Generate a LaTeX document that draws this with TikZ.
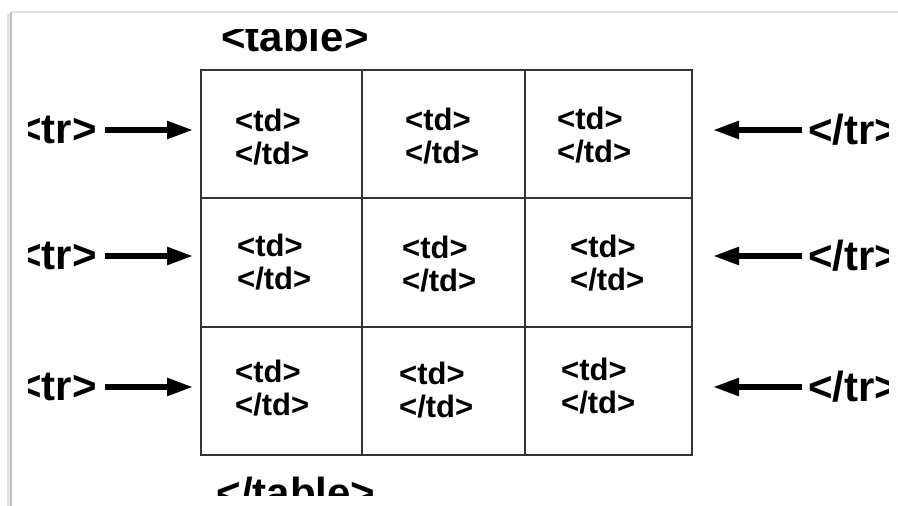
\documentclass[tikz,border=0pt]{standalone}
\usepackage{fontspec}
\setmainfont{Liberation Sans}
\usetikzlibrary{arrows.meta}
\begin{document}
\begin{tikzpicture}[x=1pt,y=-1pt,
	tag/.style={font=\fontsize{42}{44}\selectfont\bfseries},
	cell/.style={font=\fontsize{31}{33}\selectfont\bfseries, align=left, anchor=west, inner sep=0pt},
	rowarrow/.style={line width=5.5pt, -{Triangle[length=26pt,width=17pt]}}]
\useasboundingbox (0,0) rectangle (898,506);
% frame of the slide
\draw[line width=3pt, black!10] (8,14) -- (8,506);
\draw[line width=1.6pt, black!25] (11,12) -- (11,506);
\draw[line width=1.2pt, black!12] (11,12) -- (898,12);
	\begin{scope}
	\clip (28,29) rectangle (888,495);
% the table
\draw[line width=1.3pt, black!80] (201,70) rectangle (692,455);
\draw[line width=1.3pt, black!80] (362,70) -- (362,455);
\draw[line width=1.3pt, black!80] (525,70) -- (525,455);
\draw[line width=1.3pt, black!80] (201,198) -- (692,198);
\draw[line width=1.3pt, black!80] (201,327) -- (692,327);
\node[tag, anchor=base, inner sep=0pt] (tabopen) at (295,52) {<table>};
\node[tag, anchor=base, inner sep=0pt] (tabclose) at (296,507) {</table>};
% cells
\node[cell] (c11) at (235,137) {<td>\\</td>};
\node[cell] (c12) at (405,136) {<td>\\</td>};
\node[cell] (c13) at (557,135) {<td>\\</td>};
\node[cell] (c21) at (237,262) {<td>\\</td>};
\node[cell] (c22) at (402,264) {<td>\\</td>};
\node[cell] (c23) at (570,263) {<td>\\</td>};
\node[cell] (c31) at (235,388) {<td>\\</td>};
\node[cell] (c32) at (399,390) {<td>\\</td>};
\node[cell] (c33) at (561,386) {<td>\\</td>};
% rows
\node[tag, anchor=east, inner sep=8pt] (trL1) at (105,130) {<tr>};
\node[tag, anchor=east, inner sep=8pt] (trL2) at (105,256) {<tr>};
\node[tag, anchor=east, inner sep=8pt] (trL3) at (105,387) {<tr>};
\node[tag, anchor=west, inner sep=6pt] (trR1) at (802,130) {</tr>};
\node[tag, anchor=west, inner sep=6pt] (trR2) at (802,256) {</tr>};
\node[tag, anchor=west, inner sep=6pt] (trR3) at (802,387) {</tr>};
\coordinate (inL1) at (193,130);
\coordinate (inL2) at (193,256);
\coordinate (inL3) at (193,387);
\coordinate (inR1) at (713,130);
\coordinate (inR2) at (713,256);
\coordinate (inR3) at (713,387);
\draw[rowarrow] (trL1) -- (inL1);
\draw[rowarrow] (trL2) -- (inL2);
\draw[rowarrow] (trL3) -- (inL3);
\draw[rowarrow] (trR1) -- (inR1);
\draw[rowarrow] (trR2) -- (inR2);
\draw[rowarrow] (trR3) -- (inR3);
	\end{scope}
\end{tikzpicture}
\end{document}
